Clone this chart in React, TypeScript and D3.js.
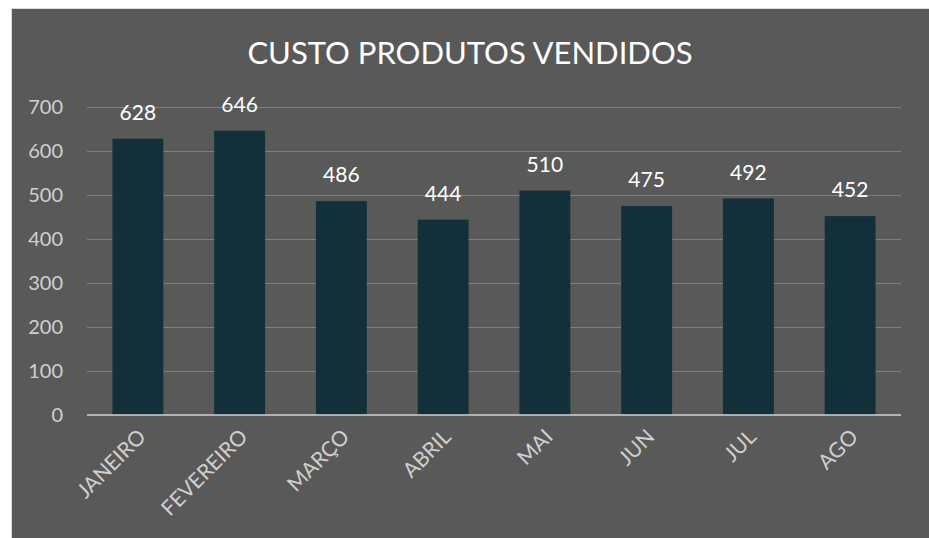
import React from 'react';
import * as d3 from 'd3';

const months = ['JANEIRO', 'FEVEREIRO', 'MARÇO', 'ABRIL', 'MAI', 'JUN', 'JUL', 'AGO'];
const custo = [628, 646, 486, 444, 510, 475, 492, 452];
const yTicks = [0, 100, 200, 300, 400, 500, 600, 700];

const W = 929;
const H = 538;
const FONT = "Lato, 'Open Sans', sans-serif";

const App: React.FC = () => {
  // plot area
  const left = 87;
  const right = 901;
  const top = 107;
  const bottom = 415;

  const x = d3.scaleBand<string>().domain(months).range([left, right]).paddingInner(0.5).paddingOuter(0.25);
  const y = d3.scaleLinear().domain([0, 700]).range([bottom, top]);

  return (
    <svg width={W} height={H} style={{ position: 'absolute', left: 0, top: 0, display: 'block' }}>
      <rect x={0} y={0} width={W} height={H} fill="#ffffff" />
      {/* chart box */}
      <rect x={11.5} y={8.5} width={W + 10} height={H + 10} fill="#595959" stroke="#d9d9d9" strokeWidth={1} />

      <text x={470} y={64} textAnchor="middle" fill="#ffffff" fontSize={31} fontFamily={FONT}>
        CUSTO PRODUTOS VENDIDOS
      </text>

      {/* gridlines */}
      {yTicks.filter(t => t > 0).map(t => (
        <line key={t} x1={left} x2={right} y1={Math.round(y(t)) + 0.5} y2={Math.round(y(t)) + 0.5} stroke="#7f7f7f" strokeWidth={1} />
      ))}

      {/* y tick labels */}
      {yTicks.map(t => (
        <text key={'yl' + t} x={63} y={y(t) + 7} textAnchor="end" fill="#d0d0d0" fontSize={20} fontFamily={FONT}>
          {t}
        </text>
      ))}

      {/* bars */}
      {months.map((m, i) => (
        <rect key={m} x={x(m)} y={y(custo[i])} width={x.bandwidth()} height={bottom - y(custo[i])} fill="#13303a" />
      ))}

      {/* axis line */}
      <line x1={left} x2={right} y1={bottom} y2={bottom} stroke="#d0d0d0" strokeWidth={1.5} />

      {/* data labels */}
      {months.map((m, i) => (
        <text key={'dl' + m} x={(x(m) ?? 0) + x.bandwidth() / 2} y={y(custo[i]) - 19} textAnchor="middle" fill="#ffffff" fontSize={21} fontFamily={FONT}>
          {custo[i]}
        </text>
      ))}

      {/* x labels */}
      {months.map(m => {
        const cx = (x(m) ?? 0) + x.bandwidth() / 2 + 4;
        const cy = bottom + 18;
        return (
          <text key={'xl' + m} transform={`translate(${cx},${cy}) rotate(-45)`} textAnchor="end" dy="0.35em" fill="#d0d0d0" fontSize={21} fontFamily={FONT}>
            {m}
          </text>
        );
      })}
    </svg>
  );
};

export default App;
